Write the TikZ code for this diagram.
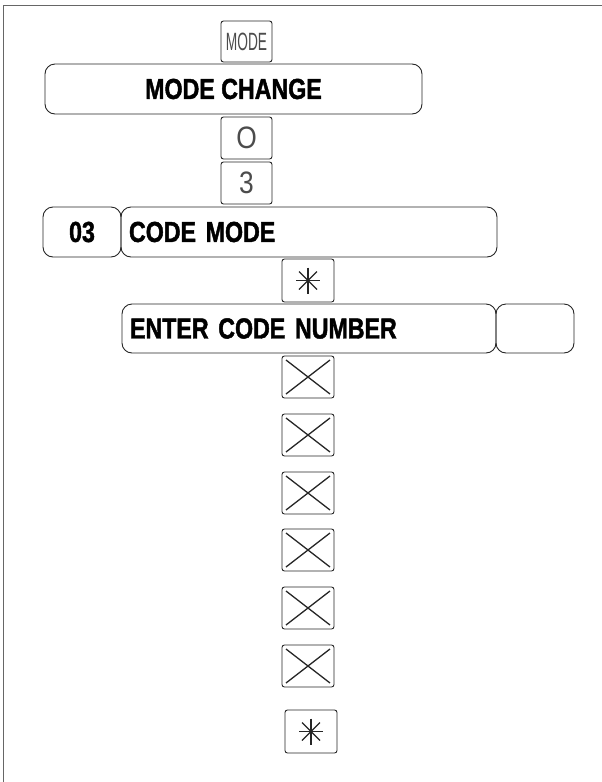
\documentclass[tikz,border=0pt]{standalone}
\usepackage{fontspec}
\newfontfamily\condbold{Liberation Sans}[FakeStretch=0.8, BoldFeatures={FakeBold=1.5}]
\newfontfamily\keyfont{Liberation Sans}[FakeStretch=0.55]
\newfontfamily\digitfont{Liberation Sans}[FakeStretch=0.85]
\begin{document}
\begin{tikzpicture}[x=1pt,y=-1pt,
  box/.style={draw=black!85, line width=0.9pt, inner sep=0pt},
  keybox/.style={box, rounded corners=2.5pt, minimum width=51pt, minimum height=42pt,
    font=\keyfont\fontsize{25}{25}\selectfont, text=black!70},
  digitkey/.style={keybox, font=\digitfont\fontsize{31}{31}\selectfont},
  bigbox/.style={box, rounded corners=10pt, minimum height=50pt,
    font=\condbold\bfseries\fontsize{29}{29}\selectfont},
  leftbox/.style={bigbox, align=left, inner xsep=8pt},
  xkey/.style={keybox, minimum width=52pt,
    path picture={
      \draw[line width=1.3pt] ([shift={(4pt,-4pt)}]path picture bounding box.north west) -- ([shift={(-4pt,4pt)}]path picture bounding box.south east);
      \draw[line width=1.3pt] ([shift={(-4pt,-4pt)}]path picture bounding box.north east) -- ([shift={(4pt,4pt)}]path picture bounding box.south west);}},
  starkey/.style={keybox, minimum width=52pt, minimum height=43pt,
    path picture={
      \draw[line width=1.1pt] ([yshift=13pt]path picture bounding box.center) -- ([yshift=-13pt]path picture bounding box.center);
      \draw[line width=1.1pt] ([xshift=-12pt]path picture bounding box.center) -- ([xshift=12pt]path picture bounding box.center);
      \draw[line width=1.1pt] ([shift={(-9pt,-9pt)}]path picture bounding box.center) -- ([shift={(9pt,9pt)}]path picture bounding box.center);
      \draw[line width=1.1pt] ([shift={(-9pt,9pt)}]path picture bounding box.center) -- ([shift={(9pt,-9pt)}]path picture bounding box.center);}}
]
\useasboundingbox (0,0) rectangle (602,782);
% frame
\draw[black!60, line width=1.2pt] (3.5,782) -- (3.5,5.5) -- (602,5.5);

\node[keybox, minimum height=41pt] (mode) at (246.5,41.5) {MODE};
\node[bigbox, minimum width=377pt] (modechange) at (233.5,89) {MODE CHANGE};
\node[digitkey] (k0) at (246.5,138) {O};
\node[digitkey] (k3) at (246.5,183) {3};
\node[bigbox, minimum width=78pt] (num) at (82,232) {03};
\node[leftbox, text width=360pt] (codemode) at (309,232) {CODE MODE};
\node[starkey] (star1) at (308,280.5) {};
\node[leftbox, text width=358pt, minimum height=49pt] (enter) at (309,328.5) {ENTER CODE NUMBER};
\node[bigbox, minimum width=78pt, minimum height=49pt] (value) at (535,328.5) {};
\node[xkey] (x1) at (308,377) {};
\node[xkey] (x2) at (308,435) {};
\node[xkey] (x3) at (308,493) {};
\node[xkey] (x4) at (308,550) {};
\node[xkey] (x5) at (308,608) {};
\node[xkey] (x6) at (308,666) {};
\node[starkey] (star2) at (311,731.5) {};
\end{tikzpicture}
\end{document}
